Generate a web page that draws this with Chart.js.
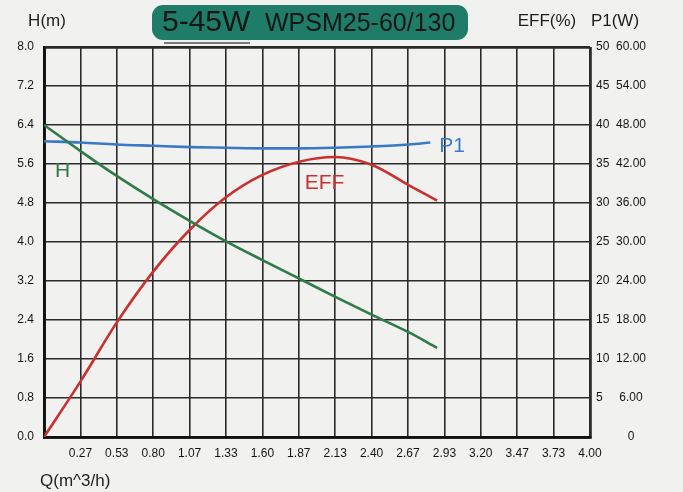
<!DOCTYPE html>
<html>
<head>
<meta charset="utf-8">
<script src="https://cdn.jsdelivr.net/npm/chart.js@4/dist/chart.umd.min.js"></script>
<style>
  html, body { margin: 0; padding: 0; background: #f1f1ef; }
  #wrap { width: 683px; height: 492px; position: relative; }
</style>
</head>
<body>
<div id="wrap"><canvas id="pump"></canvas></div>
<script>
// flow axis ticks (m^3/h)
const qTickLabels = ['', '0.27', '0.53', '0.80', '1.07', '1.33', '1.60', '1.87', '2.13', '2.40', '2.67', '2.93', '3.20', '3.47', '3.73', '4.00'];
const hTickLabels = ['0.0', '0.8', '1.6', '2.4', '3.2', '4.0', '4.8', '5.6', '6.4', '7.2', '8.0'];

// head curve H(m)
const hQ = [0, 0.27, 0.53, 0.80, 1.07, 1.33, 1.60, 1.87, 2.13, 2.40, 2.67, 2.88];
const hVal = [6.40, 5.86, 5.36, 4.88, 4.43, 4.02, 3.63, 3.25, 2.88, 2.51, 2.15, 1.83];

// efficiency EFF(%)
const effQ = [0, 0.27, 0.53, 0.80, 1.07, 1.33, 1.60, 1.87, 2.13, 2.40, 2.67, 2.88];
const effVal = [0, 7.2, 14.6, 21.2, 26.6, 30.7, 33.6, 35.3, 35.9, 34.9, 32.3, 30.3];

// input power P1(W)
const p1Q = [0, 0.27, 0.53, 0.80, 1.07, 1.33, 1.60, 1.87, 2.13, 2.40, 2.67, 2.83];
const p1Val = [45.5, 45.3, 45.0, 44.8, 44.6, 44.5, 44.4, 44.4, 44.5, 44.7, 45.0, 45.3];

const zip = (xs, ys) => xs.map((x, i) => ({x, y: ys[i]}));

const FONT = "'Liberation Sans Narrow', 'Liberation Sans', Arial, sans-serif";
const GREEN = '#2f7b47', RED = '#c9302f', BLUE = '#3b78c6';

const decor = {
  id: 'decor',
  afterDraw(chart) {
    const ctx = chart.ctx;
    const x = chart.scales.x, yH = chart.scales.y;
    ctx.save();
    // title badge
    ctx.fillStyle = '#1f7c69';
    ctx.beginPath();
    ctx.roundRect(152, 5, 316, 35, 11);
    ctx.fill();
    ctx.fillStyle = '#161616';
    ctx.textBaseline = 'middle';
    ctx.textAlign = 'left';
    ctx.font = "30px " + FONT;
    ctx.fillText('5-45W', 162, 23);
    ctx.font = "25px " + FONT;
    ctx.fillText('WPSM25-60/130', 265, 24);
    ctx.strokeStyle = '#7a7a7a';
    ctx.lineWidth = 2;
    ctx.beginPath(); ctx.moveTo(164, 43); ctx.lineTo(250, 43); ctx.stroke();

    // axis names
    ctx.fillStyle = '#1e1e1e';
    ctx.font = "17px " + FONT;
    ctx.textAlign = 'center';
    ctx.fillText('H(m)', 47, 21);
    ctx.fillText('EFF(%)', 547, 21);
    ctx.fillText('P1(W)', 615, 21);
    ctx.textAlign = 'left';
    ctx.fillText('Q(m^3/h)', 40, 481);

    // curve names next to their curves
    ctx.font = "21px " + FONT;
    ctx.fillStyle = GREEN;
    ctx.fillText('H', x.getPixelForValue(0.08), yH.getPixelForValue(5.45));
    ctx.fillStyle = RED;
    ctx.fillText('EFF', x.getPixelForValue(1.91), chart.scales.yEff.getPixelForValue(32.5));
    ctx.fillStyle = BLUE;
    const last = p1Q.length - 1;
    ctx.fillText('P1', x.getPixelForValue(p1Q[last]) + 9, chart.scales.yP1.getPixelForValue(p1Val[last]) + 4);
    ctx.restore();
  }
};

const edgeWidth = (ctx, n) => (ctx.index === 0 || ctx.index === n) ? 2.8 : 1.6;

new Chart(document.getElementById('pump'), {
  type: 'line',
  data: {
    datasets: [
      { label: 'H', data: zip(hQ, hVal), yAxisID: 'y', borderColor: GREEN },
      { label: 'EFF', data: zip(effQ, effVal), yAxisID: 'yEff', borderColor: RED },
      { label: 'P1', data: zip(p1Q, p1Val), yAxisID: 'yP1', borderColor: BLUE }
    ]
  },
  options: {
    responsive: true,
    maintainAspectRatio: false,
    animation: false,
    layout: { padding: { top: 47, right: 21, left: 0, bottom: 0 } },
    elements: {
      line: { borderWidth: 2.6, cubicInterpolationMode: 'monotone', fill: false },
      point: { radius: 0 }
    },
    plugins: { legend: { display: false }, tooltip: { enabled: false } },
    scales: {
      x: {
        type: 'linear', min: 0, max: 4,
        afterBuildTicks: s => { s.ticks = qTickLabels.map((_, i) => ({value: i * 4 / 15})); },
        afterFit: s => { s.height = 55; },
        ticks: {
          autoSkip: false, maxRotation: 0, padding: 9, color: '#151515',
          font: { family: FONT, size: 12 },
          callback: (v, i) => qTickLabels[i]
        },
        grid: { color: '#2a2a2a', lineWidth: c => edgeWidth(c, 15), drawTicks: false },
        border: { color: '#111', width: 2.8 }
      },
      y: {
        position: 'left', min: 0, max: 8,
        afterBuildTicks: s => { s.ticks = hTickLabels.map(t => ({value: parseFloat(t)})); },
        afterFit: s => { s.width = 44; },
        ticks: {
          padding: 10, color: '#151515', font: { family: FONT, size: 12 },
          callback: (v, i) => hTickLabels[i]
        },
        grid: { color: '#2a2a2a', lineWidth: c => edgeWidth(c, 10), drawTicks: false },
        border: { color: '#111', width: 2.8 }
      },
      yEff: {
        position: 'right', min: 0, max: 50,
        afterFit: s => { s.width = 26; },
        ticks: {
          stepSize: 5, padding: 6, color: '#151515', font: { family: FONT, size: 12 },
          callback: v => v === 0 ? '' : v
        },
        grid: { display: false, drawTicks: false },
        border: { display: false }
      },
      yP1: {
        position: 'right', min: 0, max: 60,
        afterFit: s => { s.width = 46; },
        ticks: {
          stepSize: 6, padding: 0, crossAlign: 'center', color: '#151515', font: { family: FONT, size: 12 },
          callback: v => v === 0 ? '0' : v.toFixed(2)
        },
        grid: { display: false, drawTicks: false },
        border: { display: false }
      }
    }
  },
  plugins: [decor]
});
</script>
</body>
</html>
